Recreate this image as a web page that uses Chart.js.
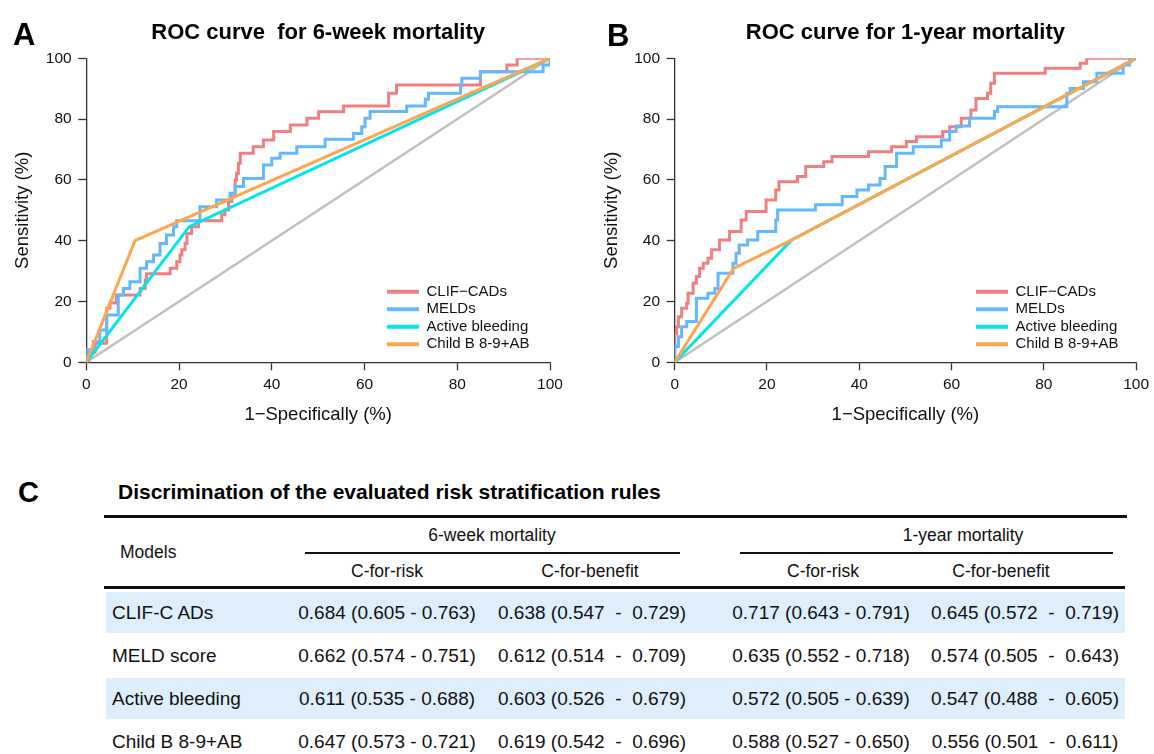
<!DOCTYPE html>
<html>
<head>
<meta charset="utf-8">
<script src="https://cdn.jsdelivr.net/npm/chart.js@4.4.0/dist/chart.umd.min.js"></script>
<style>
  body { margin: 0; background: #fff; }
  #page { position: relative; width: 1154px; height: 754px; overflow: hidden; font-family: "Liberation Sans", Arial, sans-serif; color: #111; }
  canvas { position: absolute; top: 0; }
  .panel { position: absolute; font-weight: bold; line-height: 1; color: #000; }
  .t { position: absolute; white-space: pre; font-size: 17.5px; line-height: 1; transform: translateY(-50%); }
  .row { font-size: 19px; }
  .c { transform: translate(-50%, -50%); }
  .rule { position: absolute; background: #111; }
  .band { position: absolute; background: #DEEEFB; }
</style>
</head>
<body>
<div id="page">
  <canvas id="roc6w" width="577" height="440" style="left:0"></canvas>
  <canvas id="roc1y" width="577" height="440" style="left:577px"></canvas>
  <div class="panel" style="left:13px;top:19px;font-size:31px">A</div>
  <div class="panel" style="left:607px;top:20px;font-size:31px">B</div>
  <div class="panel" style="left:18px;top:478px;font-size:29px">C</div>
  <div id="table"></div>
</div>
<script>
const FONT = '"Liberation Sans", Arial, sans-serif'

// legend names / colours for the four models, plus the chance diagonal
const curveNames = ['CLIF−CADs', 'MELDs', 'Active bleeding', 'Child B 8-9+AB']
const curveColors = ['#F08080', '#63B8FF', '#00E5EE', '#FFA54F']
const axisTicks = [0, 20, 40, 60, 80, 100]
const chanceLine = [[0, 0], [100, 100]]

// 6-week mortality ROC (1-specificity %, sensitivity %)
const sixWeekClif = [[0,0],[0.5,3.3],[1.9,6.3],[4.4,17.8],[5.1,19.5],[6.5,22.1],[11.6,24.3],[12.7,27.1],[13.0,29.1],[18.1,30.9],[19.5,33.1],[20.2,35.3],[20.6,37.0],[21.3,39.1],[21.7,42.4],[22.7,44.6],[24.2,46.6],[29.2,48.5],[29.9,50.1],[30.7,52.9],[31.4,54.5],[32.1,60.0],[32.4,62.2],[32.8,65.5],[33.2,68.8],[36.0,70.9],[38.2,73.1],[40.4,75.9],[44.0,78.1],[47.6,80.3],[50.1,82.4],[55.5,84.3],[65.2,88.5],[66.9,91.2],[85.0,95.6],[90.7,97.8],[92.9,100],[100,100]]
const sixWeekMeld = [[0,0],[0.1,4.1],[1.5,6.8],[2.9,10.6],[4.4,15.6],[6.9,22.1],[8.0,24.3],[9.4,26.5],[11.6,30.9],[13.0,33.1],[14.5,35.3],[15.9,39.1],[17.3,41.9],[18.8,44.6],[19.5,46.6],[24.5,51.2],[28.1,53.4],[31.0,55.6],[32.1,57.8],[33.9,60.5],[38.2,64.9],[40.0,67.1],[41.8,68.8],[45.4,70.9],[51.5,73.4],[57.6,75.3],[59.4,77.5],[60.1,80.3],[61.2,82.5],[69.1,84.3],[73.1,86.5],[73.8,88.5],[80.7,91.0],[81.0,93.4],[85.0,95.6],[98.5,97.8],[100,100]]
const sixWeekBleed = [[0,0],[22.2,44.6],[100,100]]
const sixWeekChild = [[0,0],[10.5,40.0],[100,100]]

// 1-year mortality ROC
const oneYearClif = [[0,0],[0,9.5],[0.4,11.7],[0.8,15.0],[1.5,17.8],[2.6,19.4],[2.9,22.7],[4.0,26.0],[4.7,28.2],[5.4,30.9],[6.2,32.6],[7.2,34.2],[8.0,37.0],[9.7,40.2],[11.9,43.0],[14.4,46.8],[15.5,49.6],[19.8,53.4],[21.9,56.7],[22.6,59.4],[26.6,61.1],[28.4,64.4],[32.3,66.0],[34.1,67.7],[42.0,69.3],[47.0,70.9],[50.2,72.6],[52.4,74.2],[58.1,75.9],[59.6,77.5],[62.1,80.3],[64.2,83.0],[65.3,86.8],[67.8,88.5],[68.5,91.8],[69.3,95.1],[80.3,96.7],[87.9,98.4],[89.3,100],[100,100]]
const oneYearMeld = [[0,0],[0,5.2],[0.8,8.4],[1.5,11.7],[2.6,13.4],[4.7,21.1],[7.2,22.7],[8.7,24.3],[9.4,29.3],[12.6,32.6],[13.3,35.9],[14.0,38.6],[15.8,40.2],[18.0,43.0],[21.9,46.8],[22.3,50.1],[30.5,51.8],[36.3,54.5],[39.5,56.7],[42.0,58.3],[44.5,60.5],[45.6,64.4],[48.1,68.8],[51.7,70.9],[57.8,73.1],[59.6,75.9],[61.0,77.7],[63.9,80.3],[69.3,82.5],[70.0,84.1],[85.0,88.5],[85.7,90.1],[88.6,92.3],[91.5,95.1],[97.2,97.8],[98.6,100],[100,100]]
const oneYearBleed = [[0,0],[25.3,40.2],[100,100]]
const oneYearChild = [[0,0],[12.75,30.9],[25.3,40.2],[100,100]]

// table C
const tableModels = ['CLIF-C ADs', 'MELD score', 'Active bleeding', 'Child B 8-9+AB']
const sixWeekRisk = [[0.684, 0.605, 0.763], [0.662, 0.574, 0.751], [0.611, 0.535, 0.688], [0.647, 0.573, 0.721]]
const sixWeekBenefit = [[0.638, 0.547, 0.729], [0.612, 0.514, 0.709], [0.603, 0.526, 0.679], [0.619, 0.542, 0.696]]
const oneYearRisk = [[0.717, 0.643, 0.791], [0.635, 0.552, 0.718], [0.572, 0.505, 0.639], [0.588, 0.527, 0.650]]
const oneYearBenefit = [[0.645, 0.572, 0.719], [0.574, 0.505, 0.643], [0.547, 0.488, 0.605], [0.556, 0.501, 0.611]]

const toXY = (pts) => pts.map(p => ({x: p[0], y: p[1]}))

// moves the built-in legend to the lower right of the plot
const legendSpot = {
  id: 'legendSpot',
  afterLayout(chart, args, opts) {
    const lg = chart.legend
    lg.left = opts.left - lg.options.labels.padding
    lg.bottom = opts.bottom
  }
}

function drawRoc(id, title, curves, padLeft, padRight, legendLeft) {
  const datasets = curves.map((pts, i) => ({
    label: curveNames[i],
    data: toXY(pts),
    borderColor: curveColors[i],
    borderWidth: 3,
    stepped: i < 2,
    order: 4 - i
  }))
  datasets.push({label: '', data: toXY(chanceLine), borderColor: '#C0C0C0', borderWidth: 2.5, order: 9})

  const axis = {
    type: 'linear', min: 0, max: 100,
    afterBuildTicks: (s) => { s.ticks = axisTicks.map(v => ({value: v})) },
    border: {display: true, color: '#333', width: 1.3},
    grid: {display: true, drawOnChartArea: false, drawTicks: true, tickLength: 8, tickColor: '#333', tickWidth: 1.3},
    ticks: {color: '#111', font: {family: FONT, size: 15.5}}
  }

  new Chart(document.getElementById(id), {
    type: 'line',
    data: {datasets: datasets},
    options: {
      responsive: false,
      animation: false,
      devicePixelRatio: 1,
      layout: {padding: {left: padLeft, right: padRight, top: 0, bottom: 0}},
      elements: {point: {radius: 0}, line: {tension: 0}},
      scales: {
        x: Object.assign({}, axis, {
          position: 'bottom',
          afterFit: (s) => { s.height = 77.7 },
          ticks: Object.assign({}, axis.ticks, {padding: 5, maxRotation: 0}),
          title: {display: true, text: '1−Specifically (%)', color: '#111', font: {family: FONT, size: 18.5}, padding: {top: 0, bottom: 14}}
        }),
        y: Object.assign({}, axis, {
          position: 'left',
          afterFit: (s) => { s.width = 86.3 },
          ticks: Object.assign({}, axis.ticks, {padding: 6.6}),
          title: {display: true, text: 'Sensitivity (%)', color: '#111', font: {family: FONT, size: 18.5}, padding: {top: 12, bottom: 0}}
        })
      },
      plugins: {
        title: {display: true, text: title, fullSize: false, color: '#000', font: {family: FONT, size: 22, weight: 'bold'}, padding: {top: 19.5, bottom: 12.4}},
        tooltip: {enabled: false},
        legend: {
          position: 'chartArea',
          align: 'end',
          labels: {
            usePointStyle: true,
            pointStyle: 'line',
            pointStyleWidth: 32,
            padding: 2.5,
            color: '#111',
            font: {family: FONT, size: 15},
            sort: (a, b) => a.datasetIndex - b.datasetIndex,
            generateLabels(chart) {
              return Chart.defaults.plugins.legend.labels.generateLabels(chart)
                .filter(it => it.text)
                .map(it => Object.assign(it, {lineWidth: 4}))
            }
          }
        },
        legendSpot: {left: legendLeft, bottom: 354.2}
      }
    },
    plugins: [legendSpot]
  })
}

drawRoc('roc6w', 'ROC curve  for 6-week mortality', [sixWeekClif, sixWeekMeld, sixWeekBleed, sixWeekChild], 0, 27, 387)
drawRoc('roc1y', 'ROC curve for 1-year mortality', [oneYearClif, oneYearMeld, oneYearBleed, oneYearChild], 11.4, 15, 399)

// table C, built from the arrays above
const fmtRisk = (v) => `${v[0].toFixed(3)} (${v[1].toFixed(3)} - ${v[2].toFixed(3)})`
const fmtBenefit = (v) => `${v[0].toFixed(3)} (${v[1].toFixed(3)}  -  ${v[2].toFixed(3)})`
const tbl = document.getElementById('table')
let html = ''
const txt = (x, y, s, cls, extra) => { html += `<div class="t ${cls || ''}" style="left:${x}px;top:${y}px;${extra || ''}">${s}</div>` }
const rule = (x, y, w, h) => { html += `<div class="rule" style="left:${x}px;top:${y}px;width:${w}px;height:${h}px"></div>` }

txt(118, 491, 'Discrimination of the evaluated risk stratification rules', '', 'font-weight:bold;font-size:21px;color:#000')
rule(104, 515, 1023, 2.5)
txt(120, 553, 'Models')
txt(492, 536, '6-week mortality', 'c')
txt(963, 536, '1-year mortality', 'c')
rule(305, 552, 375, 1.5)
rule(740, 552, 373, 1.5)
txt(387, 572, 'C-for-risk', 'c')
txt(590, 572, 'C-for-benefit', 'c')
txt(823, 572, 'C-for-risk', 'c')
txt(1001, 572, 'C-for-benefit', 'c')
rule(104, 586, 1021, 3)

const rowY = [612, 655, 698, 741]
tableModels.forEach((m, i) => {
  if (i % 2 === 0) html += `<div class="band" style="left:106px;top:${rowY[i] - 20}px;width:1019px;height:41px"></div>`
  txt(112, rowY[i], m, 'row')
  txt(387, rowY[i], fmtRisk(sixWeekRisk[i]), 'row c')
  txt(592, rowY[i], fmtBenefit(sixWeekBenefit[i]), 'row c')
  txt(821, rowY[i], fmtRisk(oneYearRisk[i]), 'row c')
  txt(1025, rowY[i], fmtBenefit(oneYearBenefit[i]), 'row c')
})
tbl.innerHTML = html
</script>
</body>
</html>
